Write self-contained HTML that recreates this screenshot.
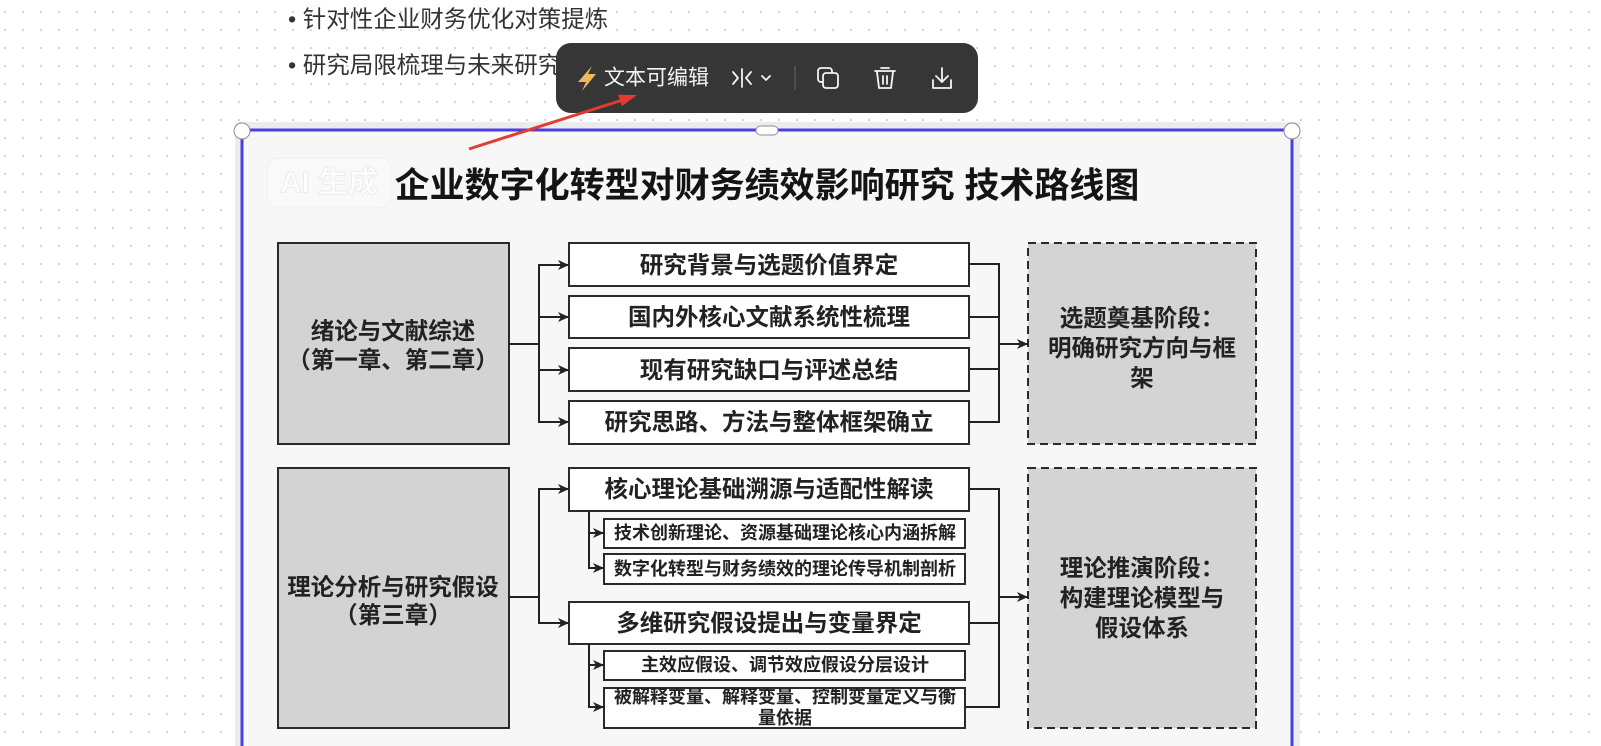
<!DOCTYPE html>
<html><head><meta charset="utf-8">
<style>
html,body{margin:0;padding:0;}
body{width:1601px;height:746px;overflow:hidden;position:relative;background:#fff;
background-image:radial-gradient(circle,#d2d2d2 0.9px,transparent 1.4px);background-size:18px 18px;background-position:-4px 3px;}
svg{position:absolute;left:0;top:0;}
</style></head><body>
<svg width="1601" height="746" viewBox="0 0 1601 746" xmlns="http://www.w3.org/2000/svg" font-family="'Liberation Sans','Noto Sans CJK SC',sans-serif">
<defs>
<marker id="a" markerWidth="11" markerHeight="10" refX="11" refY="5" orient="auto" markerUnits="userSpaceOnUse">
<path d="M0,0 L11,5 L0,10 L3,5 z" fill="#222"/>
</marker>
</defs>

<!-- bullet text -->
<text x="288" y="19" font-size="23.5" fill="#333" dominant-baseline="central">• 针对性企业财务优化对策提炼</text>
<text x="288" y="65" font-size="23.5" fill="#333" dominant-baseline="central">• 研究局限梳理与未来研究展望</text>

<!-- frame -->
<rect x="235" y="122" width="1065" height="640" fill="#ececec"/>
<rect x="242" y="130" width="1050" height="630" fill="#f7f7f7"/>
<line x1="242" y1="130" x2="1292" y2="130" stroke="#4b3fe3" stroke-width="3"/>
<line x1="242" y1="130" x2="242" y2="746" stroke="#4b3fe3" stroke-width="3"/>
<line x1="1292" y1="130" x2="1292" y2="746" stroke="#4b3fe3" stroke-width="3"/>
<circle cx="242" cy="131" r="8" fill="#fff" stroke="#8a8a9a" stroke-width="1"/>
<circle cx="1292" cy="131" r="8" fill="#fff" stroke="#8a8a9a" stroke-width="1"/>
<rect x="756" y="126" width="22" height="9" rx="4.5" fill="#fff" stroke="#8a8a9a" stroke-width="1"/>

<!-- watermark -->
<rect x="267" y="158" width="124" height="49" rx="10" fill="#f9f9f9" stroke="#efefef" stroke-width="1"/>
<text x="329" y="183" font-size="30" fill="#fdfdfd" stroke="#e9e9e9" stroke-width="0.8" text-anchor="middle" dominant-baseline="central" font-weight="700">AI 生成</text>

<!-- title -->
<text x="767" y="186" font-size="35" font-weight="700" fill="#141414" text-anchor="middle" dominant-baseline="central">企业数字化转型对财务绩效影响研究 技术路线图</text>

<g stroke="#2a2a2a" stroke-width="2">
<rect x="278" y="243" width="231" height="201" fill="#d3d3d3"/>
<rect x="278" y="468" width="231" height="260" fill="#d3d3d3"/>
<rect x="569" y="243" width="400" height="43" fill="#fff"/>
<rect x="569" y="296" width="400" height="42" fill="#fff"/>
<rect x="569" y="348" width="400" height="43" fill="#fff"/>
<rect x="569" y="401" width="400" height="43" fill="#fff"/>
<rect x="569" y="468" width="400" height="43" fill="#fff"/>
<rect x="569" y="602" width="400" height="42" fill="#fff"/>
<rect x="604" y="519" width="361" height="29" fill="#fff"/>
<rect x="604" y="554" width="361" height="30" fill="#fff"/>
<rect x="604" y="651" width="361" height="29" fill="#fff"/>
<rect x="604" y="688" width="361" height="40" fill="#fff"/>
<rect x="1028" y="243" width="228" height="201" fill="#d4d4d4" stroke-dasharray="8 5"/>
<rect x="1028" y="468" width="228" height="260" fill="#d4d4d4" stroke-dasharray="8 5"/>
</g>

<g stroke="#222" stroke-width="2" fill="none">
<line x1="509" y1="344" x2="539" y2="344"/>
<line x1="539" y1="264" x2="539" y2="423"/>
<line x1="539" y1="265" x2="569" y2="265" marker-end="url(#a)"/>
<line x1="539" y1="317" x2="569" y2="317" marker-end="url(#a)"/>
<line x1="539" y1="370" x2="569" y2="370" marker-end="url(#a)"/>
<line x1="539" y1="422" x2="569" y2="422" marker-end="url(#a)"/>
<line x1="509" y1="597" x2="539" y2="597"/>
<line x1="539" y1="488" x2="539" y2="624"/>
<line x1="539" y1="489" x2="569" y2="489" marker-end="url(#a)"/>
<line x1="539" y1="623" x2="569" y2="623" marker-end="url(#a)"/>
<line x1="589" y1="511" x2="589" y2="569"/>
<line x1="589" y1="533" x2="604" y2="533" marker-end="url(#a)"/>
<line x1="589" y1="568" x2="604" y2="568" marker-end="url(#a)"/>
<line x1="589" y1="644" x2="589" y2="708"/>
<line x1="589" y1="665" x2="604" y2="665" marker-end="url(#a)"/>
<line x1="589" y1="707" x2="604" y2="707" marker-end="url(#a)"/>
<line x1="969" y1="264" x2="999" y2="264"/>
<line x1="969" y1="317" x2="999" y2="317"/>
<line x1="969" y1="369" x2="999" y2="369"/>
<line x1="969" y1="422" x2="999" y2="422"/>
<line x1="999" y1="263" x2="999" y2="423"/>
<line x1="999" y1="344" x2="1028" y2="344" marker-end="url(#a)"/>
<line x1="969" y1="489" x2="999" y2="489"/>
<line x1="969" y1="623" x2="999" y2="623"/>
<line x1="965" y1="707" x2="999" y2="707"/>
<line x1="999" y1="488" x2="999" y2="708"/>
<line x1="999" y1="597" x2="1028" y2="597" marker-end="url(#a)"/>
</g>

<g font-weight="700" fill="#222" text-anchor="middle" dominant-baseline="central">
<g font-size="23.5">
<text x="393" y="331">绪论与文献综述</text>
<text x="393" y="360">（第一章、第二章）</text>
<text x="393" y="587">理论分析与研究假设</text>
<text x="393" y="615">（第三章）</text>
<text x="769" y="265">研究背景与选题价值界定</text>
<text x="769" y="317">国内外核心文献系统性梳理</text>
<text x="769" y="370">现有研究缺口与评述总结</text>
<text x="769" y="422">研究思路、方法与整体框架确立</text>
<text x="769" y="489">核心理论基础溯源与适配性解读</text>
<text x="769" y="623">多维研究假设提出与变量界定</text>
<text x="1142" y="318">选题奠基阶段：</text>
<text x="1142" y="348">明确研究方向与框</text>
<text x="1142" y="378">架</text>
<text x="1142" y="568">理论推演阶段：</text>
<text x="1142" y="598">构建理论模型与</text>
<text x="1142" y="628">假设体系</text>
</g>
<g font-size="18">
<text x="785" y="533">技术创新理论、资源基础理论核心内涵拆解</text>
<text x="785" y="569">数字化转型与财务绩效的理论传导机制剖析</text>
<text x="785" y="665">主效应假设、调节效应假设分层设计</text>
<text x="785" y="697">被解释变量、解释变量、控制变量定义与衡</text>
<text x="785" y="718">量依据</text>
</g>
</g>

<!-- toolbar -->
<rect x="556" y="43" width="422" height="70" rx="15" fill="#363636"/>
<polygon points="592,66 578,82 586,82 582,91 596,74 588,74" fill="#f1b85a"/>
<text x="604" y="78" font-size="21" fill="#f4f4f4" dominant-baseline="central">文本可编辑</text>
<g stroke="#f4f4f4" stroke-width="1.8" fill="none" stroke-linecap="round" stroke-linejoin="round">
<polyline points="733,72 738,78 733,84"/>
<line x1="742" y1="69" x2="742" y2="87"/>
<polyline points="751,72 746,78 751,84"/>
<polyline points="762,76 766,80 770,76"/>
<rect x="818" y="68" width="14" height="14" rx="3"/>
<rect x="823" y="73" width="15" height="15" rx="3" fill="#363636"/>
<line x1="875" y1="71" x2="895" y2="71"/>
<line x1="881" y1="68" x2="889" y2="68"/>
<path d="M877,72 L879,88 L891,88 L893,72"/>
<line x1="883" y1="76" x2="883" y2="84"/>
<line x1="887" y1="76" x2="887" y2="84"/>
<line x1="942" y1="68" x2="942" y2="82"/>
<polyline points="936,76 942,82 948,76"/>
<polyline points="933,80 933,88 951,88 951,80"/>
</g>
<line x1="795" y1="66" x2="795" y2="90" stroke="#555" stroke-width="1.5"/>

<!-- red arrow -->
<line x1="469" y1="149" x2="621" y2="100.5" stroke="#e53a2f" stroke-width="3"/>
<polygon points="637,95 621.8,106.2 618.1,94.8" fill="#e53a2f"/>
</svg>
</body></html>
